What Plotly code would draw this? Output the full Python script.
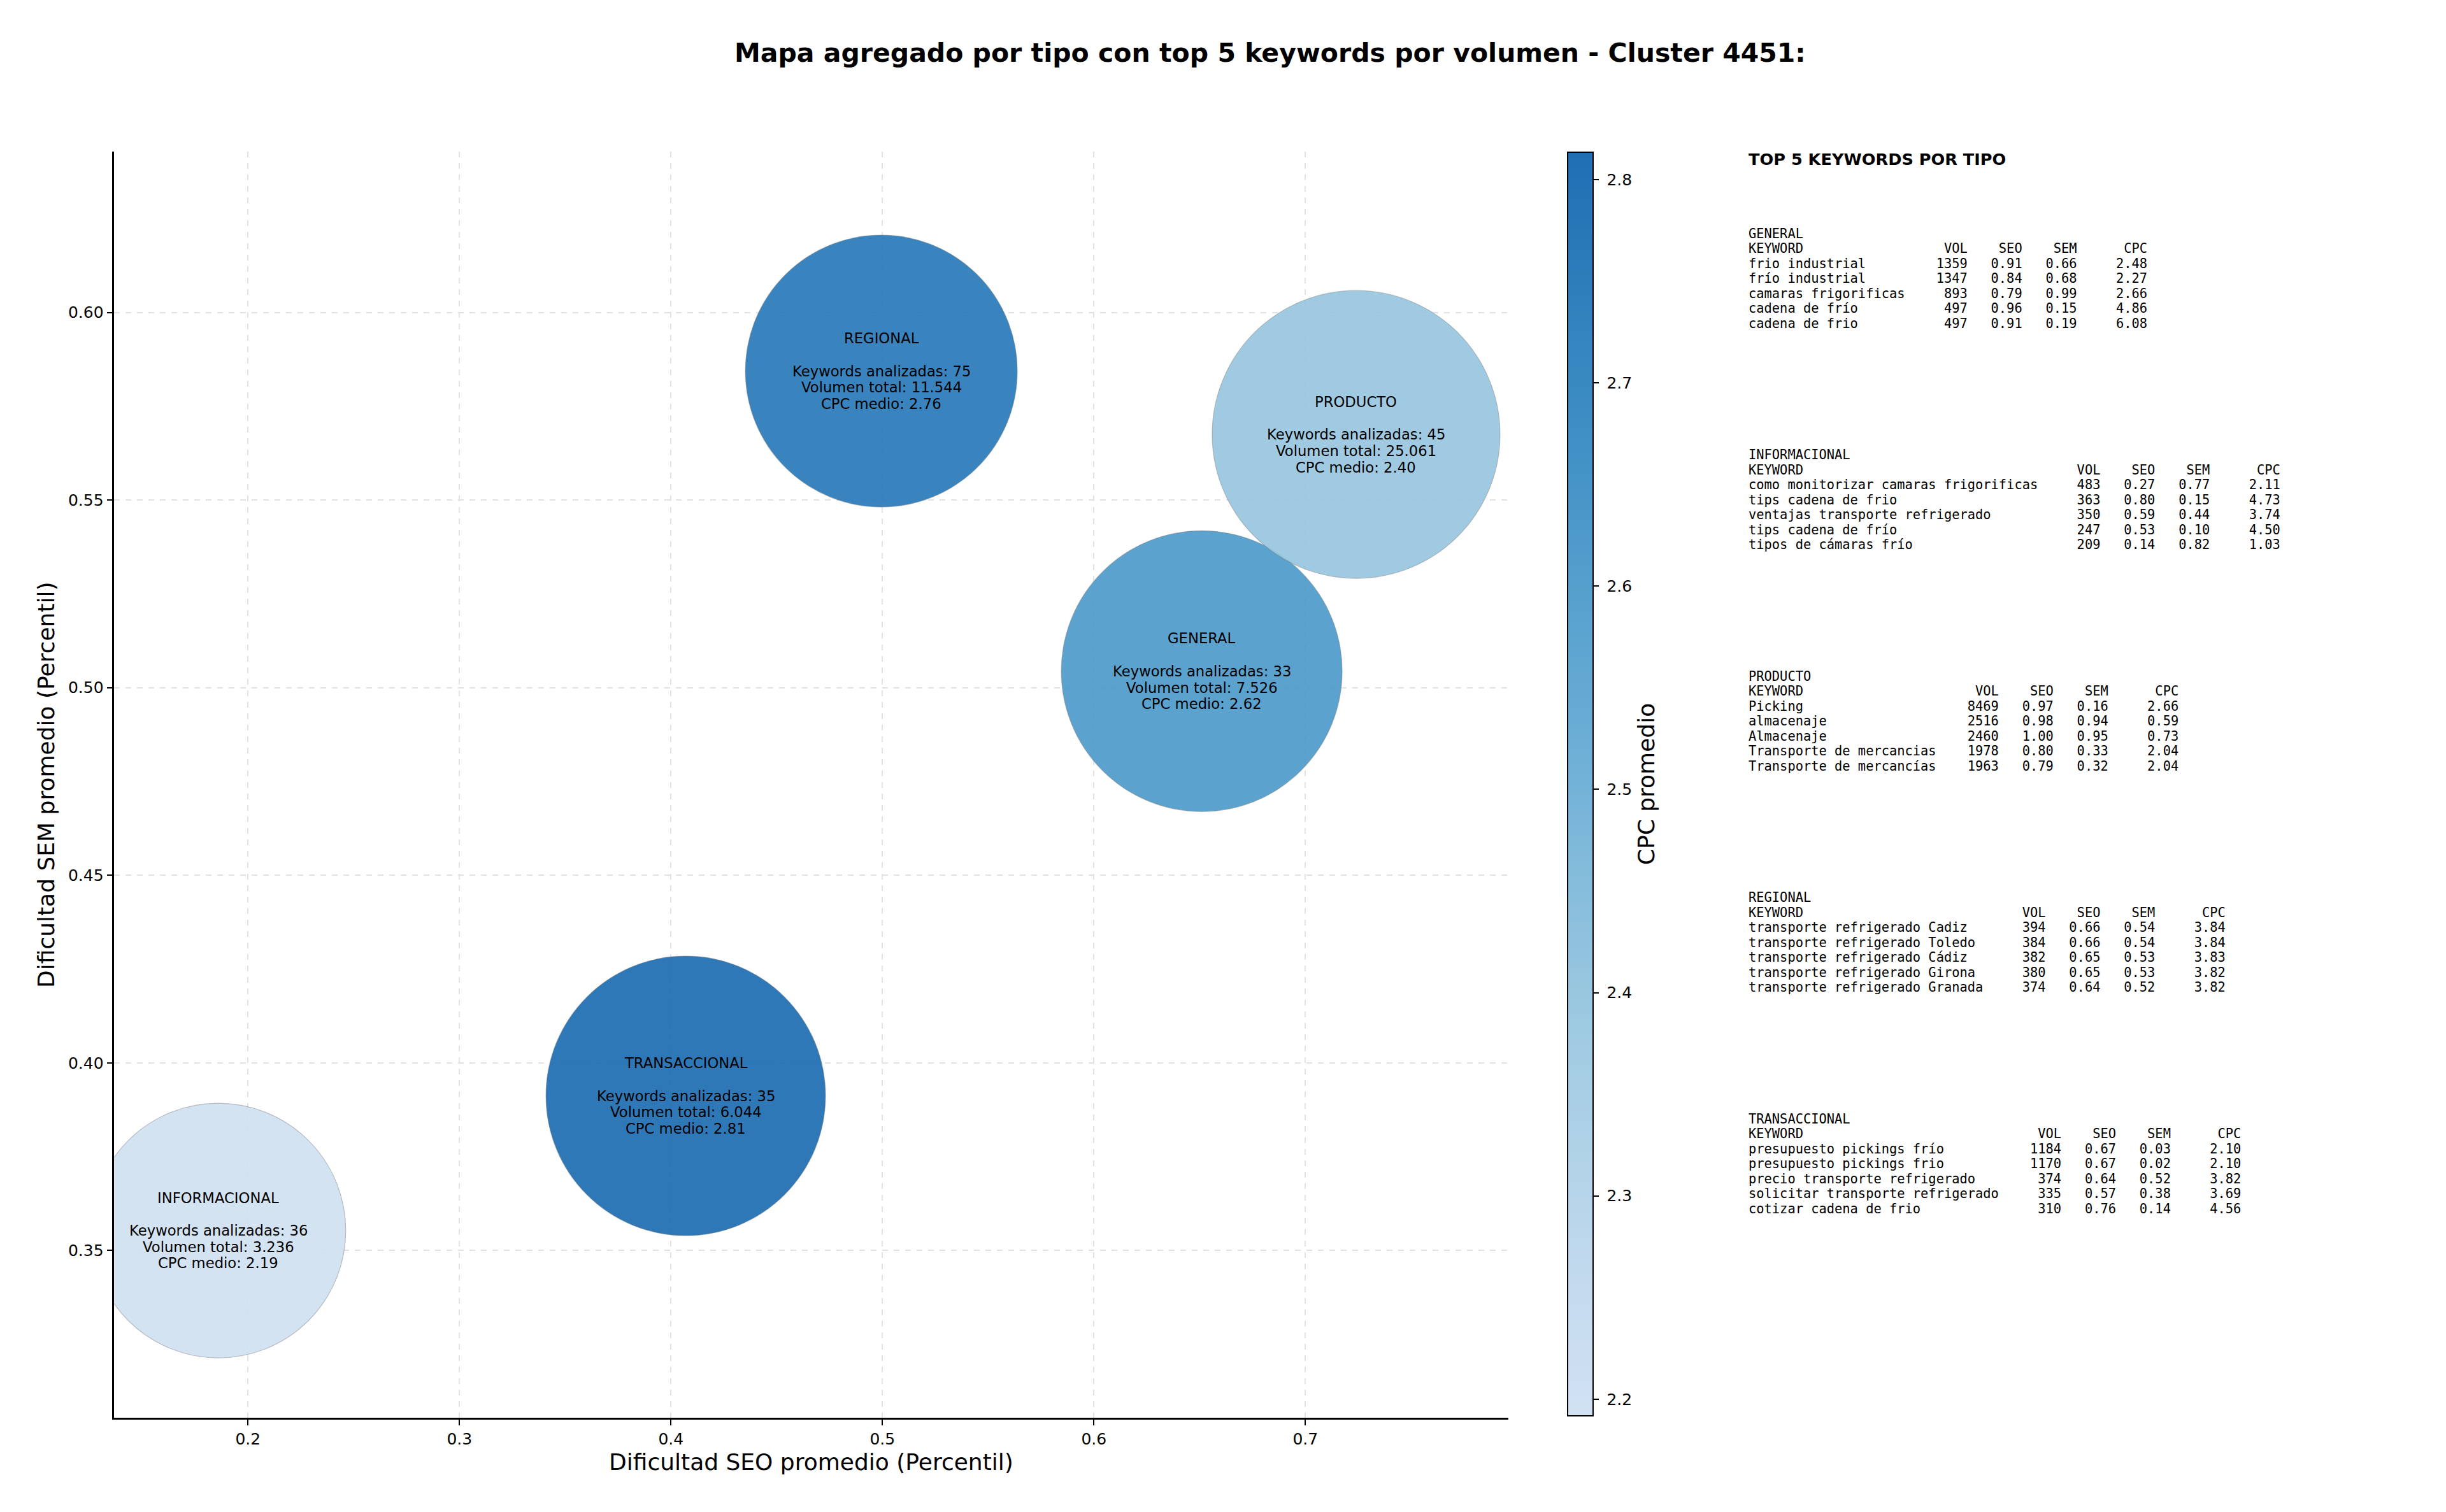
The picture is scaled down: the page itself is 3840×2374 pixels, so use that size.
import plotly.graph_objects as go

# ---------------- data ----------------
tipos = ["GENERAL", "INFORMACIONAL", "PRODUCTO", "REGIONAL", "TRANSACCIONAL"]
seo_promedio = [0.651, 0.186, 0.724, 0.4995, 0.407]
sem_promedio = [0.5044, 0.3553, 0.5675, 0.5844, 0.3912]
keywords_analizadas = [33, 36, 45, 75, 35]
volumen_total = [7526, 3236, 25061, 11544, 6044]
cpc_medio = [2.62, 2.1918, 2.40, 2.76, 2.8135]

general_kw = ["frio industrial", "frío industrial", "camaras frigorificas", "cadena de frío", "cadena de frio"]
general_vol = [1359, 1347, 893, 497, 497]
general_seo = [0.91, 0.84, 0.79, 0.96, 0.91]
general_sem = [0.66, 0.68, 0.99, 0.15, 0.19]
general_cpc = [2.48, 2.27, 2.66, 4.86, 6.08]

informacional_kw = ["como monitorizar camaras frigorificas", "tips cadena de frio", "ventajas transporte refrigerado",
                    "tips cadena de frío", "tipos de cámaras frío"]
informacional_vol = [483, 363, 350, 247, 209]
informacional_seo = [0.27, 0.80, 0.59, 0.53, 0.14]
informacional_sem = [0.77, 0.15, 0.44, 0.10, 0.82]
informacional_cpc = [2.11, 4.73, 3.74, 4.50, 1.03]

producto_kw = ["Picking", "almacenaje", "Almacenaje", "Transporte de mercancias", "Transporte de mercancías"]
producto_vol = [8469, 2516, 2460, 1978, 1963]
producto_seo = [0.97, 0.98, 1.00, 0.80, 0.79]
producto_sem = [0.16, 0.94, 0.95, 0.33, 0.32]
producto_cpc = [2.66, 0.59, 0.73, 2.04, 2.04]

regional_kw = ["transporte refrigerado Cadiz", "transporte refrigerado Toledo", "transporte refrigerado Cádiz",
               "transporte refrigerado Girona", "transporte refrigerado Granada"]
regional_vol = [394, 384, 382, 380, 374]
regional_seo = [0.66, 0.66, 0.65, 0.65, 0.64]
regional_sem = [0.54, 0.54, 0.53, 0.53, 0.52]
regional_cpc = [3.84, 3.84, 3.83, 3.82, 3.82]

transaccional_kw = ["presupuesto pickings frío", "presupuesto pickings frio", "precio transporte refrigerado",
                    "solicitar transporte refrigerado", "cotizar cadena de frio"]
transaccional_vol = [1184, 1170, 374, 335, 310]
transaccional_seo = [0.67, 0.67, 0.64, 0.57, 0.76]
transaccional_sem = [0.03, 0.02, 0.52, 0.38, 0.14]
transaccional_cpc = [2.10, 2.10, 3.82, 3.69, 4.56]

x_ticks = [0.2, 0.3, 0.4, 0.5, 0.6, 0.7]
y_ticks = [0.35, 0.40, 0.45, 0.50, 0.55, 0.60]
cbar_ticks = [2.2, 2.3, 2.4, 2.5, 2.6, 2.7, 2.8]

# ---------------- style ----------------
W, H = 3840, 2374
BUBBLE_DIAMETER = {"GENERAL": 441, "INFORMACIONAL": 400, "PRODUCTO": 452, "REGIONAL": 427, "TRANSACCIONAL": 439}
SANS = "DejaVu Sans"
MONO = "DejaVu Sans Mono"
NB = "\u00a0"

# matplotlib "Blues" anchors, truncated
blues = [(0.0, (247, 251, 255)), (0.125, (222, 235, 247)), (0.25, (198, 219, 239)), (0.375, (158, 202, 225)),
         (0.5, (107, 174, 214)), (0.625, (66, 146, 198)), (0.75, (33, 113, 181)), (0.875, (8, 81, 156)),
         (1.0, (8, 48, 107))]


def blues_at(v):
    for (a, ca), (b, cb) in zip(blues[:-1], blues[1:]):
        if a <= v <= b:
            f = (v - a) / (b - a)
            return tuple(round(ca[i] + f * (cb[i] - ca[i])) for i in range(3))
    return blues[-1][1]


lo, hi = 0.2, 0.76
colorscale = []
for k in range(21):
    t = k / 20
    r, g, b = blues_at(lo + (hi - lo) * t)
    colorscale.append([t, f"rgb({r},{g},{b})"])

# axes placement (pixels)
ax_left, ax_right, ax_top, ax_bottom = 179.3, 2368, 238, 2226

fig = go.Figure()
fig.add_trace(go.Scatter(
    x=seo_promedio, y=sem_promedio, mode="markers", cliponaxis=True, showlegend=False,
    text=tipos, hoverinfo="text",
    marker=dict(
        size=[BUBBLE_DIAMETER[t] for t in tipos], sizemode="diameter",
        color=cpc_medio, colorscale=colorscale, cmin=min(cpc_medio), cmax=max(cpc_medio),
        opacity=0.93, line=dict(width=1.2, color="rgba(120,120,120,0.45)"),
        colorbar=dict(
            title=dict(text="CPC promedio", side="right", font=dict(family=SANS, size=36, color="black")),
            thickness=40, thicknessmode="pixels",
            len=(2223 - 239) / H, lenmode="fraction",
            x=2461 / W, xref="paper", xanchor="left",
            y=1 - 239 / H, yref="paper", yanchor="top",
            xpad=0, ypad=0,
            outlinewidth=2, outlinecolor="black",
            ticks="outside", ticklen=8, tickwidth=2, tickcolor="black",
            tickvals=cbar_ticks, ticktext=[NB + f"{v:.1f}" for v in cbar_ticks],
            tickfont=dict(family=SANS, size=25, color="black"),
        ),
    ),
))

annotations = []
# bubble labels
line_step = 25.7
for i, t in enumerate(tipos):
    vol_txt = f"{volumen_total[i]:,}".replace(",", ".")
    lines = [t, "", f"Keywords analizadas: {keywords_analizadas[i]}", f"Volumen total: {vol_txt}",
             f"CPC medio: {cpc_medio[i]:.2f}"]
    for j, ln in enumerate(lines):
        if not ln:
            continue
        annotations.append(dict(
            x=seo_promedio[i], y=sem_promedio[i], xref="x", yref="y", text=ln, showarrow=False,
            xanchor="center", yanchor="middle", yshift=-(j - 2) * line_step,
            font=dict(family=SANS, size=22.7, color="black"),
        ))

# title
annotations.append(dict(
    x=1993.5 / W, y=1 - 83 / H, xref="paper", yref="paper", showarrow=False,
    text="<b>Mapa agregado por tipo con top 5 keywords por volumen - Cluster 4451:</b>",
    xanchor="center", yanchor="middle", font=dict(family=SANS, size=41, color="black"),
))
# axis titles
annotations.append(dict(
    x=(ax_left + ax_right) / 2 / W, y=1 - 2295 / H, xref="paper", yref="paper", showarrow=False,
    text="Dificultad SEO promedio (Percentil)", xanchor="center", yanchor="middle",
    font=dict(family=SANS, size=36, color="black"),
))
annotations.append(dict(
    x=73 / W, y=1 - (ax_top + ax_bottom) / 2 / H, xref="paper", yref="paper", showarrow=False,
    text="Dificultad SEM promedio (Percentil)", textangle=-90, xanchor="center", yanchor="middle",
    font=dict(family=SANS, size=36, color="black"),
))

# side panel
panel_x = 2743 / W
annotations.append(dict(
    x=panel_x, y=1 - 250 / H, xref="paper", yref="paper", showarrow=False,
    text="<b>TOP 5 KEYWORDS POR TIPO</b>", xanchor="left", yanchor="middle",
    font=dict(family=SANS, size=25.6, color="black"),
))

sections = [
    ("GENERAL", general_kw, general_vol, general_seo, general_sem, general_cpc),
    ("INFORMACIONAL", informacional_kw, informacional_vol, informacional_seo, informacional_sem, informacional_cpc),
    ("PRODUCTO", producto_kw, producto_vol, producto_seo, producto_sem, producto_cpc),
    ("REGIONAL", regional_kw, regional_vol, regional_seo, regional_sem, regional_cpc),
    ("TRANSACCIONAL", transaccional_kw, transaccional_vol, transaccional_seo, transaccional_sem, transaccional_cpc),
]
sec_y0, sec_step, row_step = 366.7, 347.5, 23.5
for s, (name, kws, vols, seos, sems, cpcs) in enumerate(sections):
    w = max(len(k) for k in kws)
    lines = [name, f"{'KEYWORD':<{w}} {'VOL':>7} {'SEO':>6} {'SEM':>6} {'CPC':>8}"]
    for k, v, a, b, c in zip(kws, vols, seos, sems, cpcs):
        lines.append(f"{k:<{w}} {v:>7} {a:>6.2f} {b:>6.2f} {c:>8.2f}")
    for j, ln in enumerate(lines):
        ypx = sec_y0 + s * sec_step + j * row_step
        annotations.append(dict(
            x=panel_x, y=1 - ypx / H, xref="paper", yref="paper", showarrow=False,
            text=ln.replace(" ", NB), xanchor="left", yanchor="middle",
            font=dict(family=MONO, size=20.4, color="black"),
        ))

axis_common = dict(
    showline=True, linecolor="black", linewidth=2.5, mirror=False,
    ticks="outside", ticklen=9, tickwidth=2, tickcolor="black",
    tickfont=dict(family=SANS, size=25, color="black"),
    showgrid=True, gridcolor="#e2e2e2", griddash="dash", gridwidth=1.5,
    zeroline=False, automargin=False,
)

fig.update_layout(
    width=W, height=H, autosize=False,
    margin=dict(l=0, r=0, t=0, b=0, pad=0),
    paper_bgcolor="white", plot_bgcolor="white",
    xaxis=dict(domain=[ax_left / W, ax_right / W], range=[0.13675, 0.7960],
               tickvals=x_ticks, ticktext=[f"{v:.1f}" for v in x_ticks], **axis_common),
    yaxis=dict(domain=[1 - ax_bottom / H, 1 - ax_top / H], range=[0.3054, 0.6429],
               tickvals=y_ticks, ticktext=[f"{v:.2f}" for v in y_ticks], **axis_common),
    annotations=annotations,
    font=dict(family=SANS, color="black"),
)

fig.write_html("out.html")
